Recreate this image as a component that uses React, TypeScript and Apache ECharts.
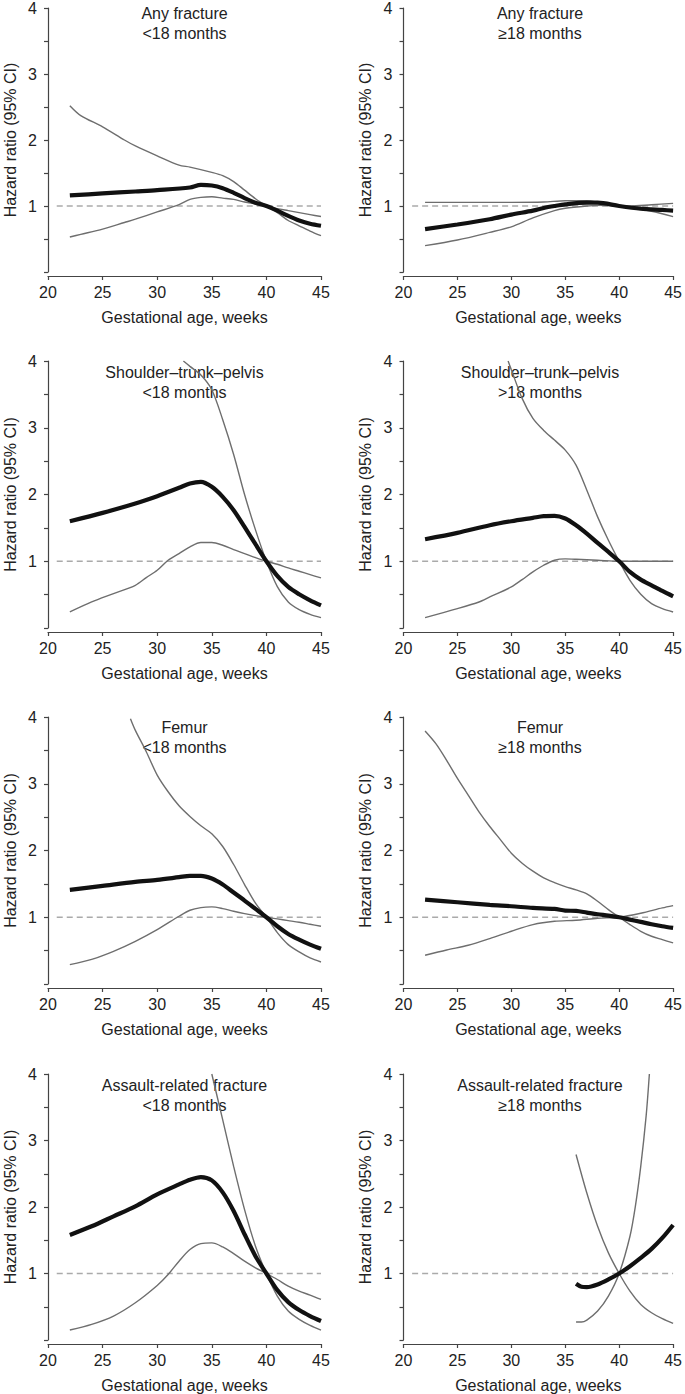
import React, { useEffect, useRef } from "react";
import * as echarts from "echarts";

// ---------- data ----------
const X_TICKS = [20, 25, 30, 35, 40, 45];
const Y_LABELS = [1, 2, 3, 4];
const REF_LINE_X = [20.8, 45];

const titles = [
  ["Any fracture", "<18 months"],
  ["Any fracture", "≥18 months"],
  ["Shoulder–trunk–pelvis", "<18 months"],
  ["Shoulder–trunk–pelvis", ">18 months"],
  ["Femur", "<18 months"],
  ["Femur", "≥18 months"],
  ["Assault-related fracture", "<18 months"],
  ["Assault-related fracture", "≥18 months"],
];

// Panel 1: Any fracture <18 months
const p1EstX = [22, 25, 28, 30, 33, 34, 35, 36, 37, 38, 39, 40, 41, 42, 43, 44, 45];
const p1EstY = [1.16, 1.19, 1.22, 1.24, 1.28, 1.32, 1.31, 1.27, 1.2, 1.12, 1.05, 1.0, 0.93, 0.85, 0.78, 0.73, 0.7];
const p1UpX = [22, 23, 25, 27, 28, 30, 32, 33, 35, 36, 37, 38, 39, 40, 41, 42, 43, 44, 45];
const p1UpY = [2.52, 2.37, 2.2, 2.0, 1.91, 1.76, 1.62, 1.59, 1.51, 1.46, 1.37, 1.24, 1.11, 1.0, 0.9, 0.78, 0.7, 0.62, 0.55];
const p1LoX = [22, 23, 25, 27, 28, 30, 32, 33, 34, 35, 36, 37, 38, 39, 40, 41, 42, 43, 44, 45];
const p1LoY = [0.53, 0.57, 0.65, 0.75, 0.8, 0.91, 1.02, 1.1, 1.13, 1.14, 1.12, 1.1, 1.06, 1.03, 1.0, 0.96, 0.93, 0.9, 0.87, 0.84];

// Panel 2: Any fracture >=18 months
const p2EstX = [22, 25, 28, 30, 32, 33, 34, 35, 37, 38, 40, 42, 44, 45];
const p2EstY = [0.65, 0.72, 0.8, 0.87, 0.93, 0.97, 1.0, 1.025, 1.05, 1.05, 1.0, 0.96, 0.94, 0.93];
const p2UpX = [22, 25, 30, 33, 35, 37, 38, 40, 41, 43, 45];
const p2UpY = [1.055, 1.055, 1.055, 1.06, 1.08, 1.08, 1.06, 1.0, 1.0, 1.02, 1.04];
const p2LoX = [22, 25, 28, 30, 32, 34, 35, 37, 38, 40, 41, 43, 45];
const p2LoY = [0.4, 0.485, 0.6, 0.685, 0.82, 0.93, 0.965, 1.0, 1.01, 1.0, 0.98, 0.92, 0.84];

// Panel 3: Shoulder-trunk-pelvis <18 months
const p3EstX = [22, 25, 28, 30, 32, 33, 34, 35, 36, 37, 38, 39, 40, 41, 42, 43, 44, 45];
const p3EstY = [1.6, 1.725, 1.865, 1.975, 2.1, 2.165, 2.19, 2.115, 1.965, 1.765, 1.515, 1.255, 1.0, 0.78, 0.615, 0.505, 0.415, 0.34];
const p3UpX = [32.4, 33, 34, 35, 36, 37, 38, 39, 40, 41, 42, 43, 44, 45];
const p3UpY = [4.0, 3.92, 3.79, 3.57, 3.12, 2.6, 2.0, 1.47, 1.0, 0.62, 0.39, 0.275, 0.205, 0.155];
const p3LoX = [22, 24, 26, 28, 29, 30, 31, 32, 33, 34, 35, 36, 37, 38, 39, 40, 41, 42, 43, 44, 45];
const p3LoY = [0.24, 0.39, 0.515, 0.64, 0.755, 0.865, 1.015, 1.115, 1.215, 1.28, 1.28, 1.24, 1.175, 1.115, 1.055, 1.0, 0.955, 0.9, 0.85, 0.8, 0.75];

// Panel 4: Shoulder-trunk-pelvis >18 months
const p4EstX = [22, 25, 28, 30, 32, 33, 34, 35, 36, 37, 38, 39, 40, 41, 42, 43, 44, 45];
const p4EstY = [1.33, 1.425, 1.54, 1.6, 1.65, 1.675, 1.68, 1.64, 1.54, 1.415, 1.275, 1.14, 1.0, 0.84, 0.725, 0.64, 0.555, 0.475];
const p4UpX = [29.7, 30, 31, 32, 33, 34, 35, 36, 37, 38, 39, 40, 41, 42, 43, 44, 45];
const p4UpY = [4.0, 3.87, 3.44, 3.14, 2.96, 2.815, 2.665, 2.44, 2.065, 1.665, 1.315, 1.0, 0.715, 0.505, 0.365, 0.29, 0.24];
const p4LoX = [22, 25, 27, 28, 30, 31, 32, 33, 34, 35, 36, 38, 40, 45];
const p4LoY = [0.155, 0.29, 0.39, 0.465, 0.615, 0.725, 0.84, 0.94, 1.015, 1.035, 1.03, 1.015, 1.0, 1.0];

// Panel 5: Femur <18 months
const p5EstX = [22, 25, 28, 30, 32, 33, 34, 35, 36, 37, 38, 39, 40, 41, 42, 43, 44, 45];
const p5EstY = [1.41, 1.47, 1.53, 1.56, 1.6, 1.62, 1.62, 1.58, 1.49, 1.37, 1.25, 1.125, 1.0, 0.865, 0.75, 0.665, 0.59, 0.527];
const p5UpX = [27.55, 28, 29, 30, 31, 32, 33, 34, 35, 36, 37, 38, 39, 40, 41, 42, 43, 44, 45];
const p5UpY = [3.975, 3.8, 3.48, 3.13, 2.88, 2.67, 2.51, 2.37, 2.25, 2.06, 1.79, 1.49, 1.21, 1.0, 0.77, 0.59, 0.48, 0.39, 0.33];
const p5LoX = [22, 24, 26, 28, 30, 32, 33, 34, 35, 36, 37, 38, 39, 40, 41, 42, 43, 44, 45];
const p5LoY = [0.29, 0.37, 0.49, 0.64, 0.815, 1.015, 1.105, 1.145, 1.155, 1.13, 1.09, 1.055, 1.025, 1.0, 0.975, 0.95, 0.925, 0.895, 0.865];

// Panel 6: Femur >=18 months
const p6EstX = [22, 25, 28, 30, 32, 34, 35, 36, 37, 38, 39, 40, 41, 42, 43, 44, 45];
const p6EstY = [1.265, 1.225, 1.185, 1.165, 1.14, 1.125, 1.1, 1.095, 1.07, 1.045, 1.025, 1.0, 0.965, 0.93, 0.895, 0.865, 0.84];
const p6UpX = [22, 23, 24, 25, 26, 27, 28, 29, 30, 31, 32, 33, 34, 35, 36, 37, 38, 39, 40, 41, 42, 43, 44, 45];
const p6UpY = [3.79, 3.6, 3.35, 3.08, 2.83, 2.58, 2.36, 2.16, 1.96, 1.81, 1.69, 1.59, 1.52, 1.46, 1.41, 1.35, 1.24, 1.115, 1.0, 0.89, 0.79, 0.715, 0.665, 0.615];
const p6LoX = [22, 24, 26, 28, 30, 32, 34, 36, 38, 40, 42, 44, 45];
const p6LoY = [0.43, 0.51, 0.58, 0.68, 0.79, 0.89, 0.94, 0.955, 0.985, 1.0, 1.06, 1.14, 1.175];

// Panel 7: Assault-related fracture <18 months
const p7EstX = [22, 24, 26, 28, 30, 32, 33, 34, 35, 36, 37, 38, 39, 40, 41, 42, 43, 44, 45];
const p7EstY = [1.58, 1.71, 1.86, 2.01, 2.19, 2.34, 2.41, 2.45, 2.4, 2.22, 1.94, 1.59, 1.26, 1.0, 0.75, 0.57, 0.45, 0.36, 0.285];
const p7UpX = [35, 36, 37, 38, 39, 40, 41, 42, 43, 44, 45];
const p7UpY = [4.0, 3.31, 2.61, 1.96, 1.41, 1.0, 0.66, 0.435, 0.31, 0.22, 0.15];
const p7LoX = [22, 24, 26, 28, 30, 31, 32, 33, 34, 35, 36, 37, 38, 39, 40, 41, 42, 43, 44, 45];
const p7LoY = [0.15, 0.235, 0.36, 0.56, 0.82, 0.985, 1.185, 1.36, 1.45, 1.46, 1.4, 1.3, 1.185, 1.085, 1.0, 0.91, 0.81, 0.735, 0.675, 0.61];

// Panel 8: Assault-related fracture >=18 months
const p8EstX = [36, 36.5, 37, 38, 39, 40, 41, 42, 43, 44, 45];
const p8EstY = [0.845, 0.8, 0.795, 0.835, 0.91, 1.0, 1.11, 1.235, 1.37, 1.535, 1.73];
const p8UpX = [36, 37, 38, 39, 40, 41, 42, 43, 44, 45];
const p8UpY = [2.79, 2.21, 1.71, 1.31, 1.0, 0.735, 0.535, 0.41, 0.32, 0.25];
const p8LoX = [36, 36.5, 37, 38, 39, 40, 41, 41.5, 42, 42.5, 42.8];
const p8LoY = [0.27, 0.27, 0.3, 0.435, 0.66, 1.0, 1.56, 2.01, 2.61, 3.37, 4.0];

const panelData = [
  { est: [p1EstX, p1EstY], up: [p1UpX, p1UpY], lo: [p1LoX, p1LoY] },
  { est: [p2EstX, p2EstY], up: [p2UpX, p2UpY], lo: [p2LoX, p2LoY] },
  { est: [p3EstX, p3EstY], up: [p3UpX, p3UpY], lo: [p3LoX, p3LoY] },
  { est: [p4EstX, p4EstY], up: [p4UpX, p4UpY], lo: [p4LoX, p4LoY] },
  { est: [p5EstX, p5EstY], up: [p5UpX, p5UpY], lo: [p5LoX, p5LoY] },
  { est: [p6EstX, p6EstY], up: [p6UpX, p6UpY], lo: [p6LoX, p6LoY] },
  { est: [p7EstX, p7EstY], up: [p7UpX, p7UpY], lo: [p7LoX, p7LoY] },
  { est: [p8EstX, p8EstY], up: [p8UpX, p8UpY], lo: [p8LoX, p8LoY] },
];

// ---------- layout ----------
const W = 685;
const H = 1394;
const FONT = "'Liberation Sans', Arial, Helvetica, sans-serif";
const COL_LEFT = [48, 403.5];
const COL_WIDTH = 273;
const ROW_TOP = [5, 361, 717, 1074];
const ROW_HEIGHT = 267;
const TITLE_Y1 = [13, 372, 727, 1085];
const LINE_GAP = 20;

const zip = (xs: number[], ys: number[]) => xs.map((x, i) => [x, ys[i]]);

export default function App() {
  const ref = useRef<HTMLDivElement>(null);

  useEffect(() => {
    document.body.style.margin = "0";
    if (!ref.current) return;
    const chart = echarts.init(ref.current, null, { renderer: "svg" });

    const grids: any[] = [];
    const xAxes: any[] = [];
    const yAxes: any[] = [];
    const series: any[] = [];
    const graphics: any[] = [];

    panelData.forEach((p, i) => {
      const col = i % 2;
      const row = Math.floor(i / 2);
      grids.push({
        left: COL_LEFT[col],
        top: ROW_TOP[row],
        width: COL_WIDTH,
        height: ROW_HEIGHT,
        containLabel: false,
      });
      xAxes.push({
        gridIndex: i,
        type: "value",
        min: 20,
        max: 45,
        interval: 5,
        offset: 4,
        name: "Gestational age, weeks",
        nameLocation: "middle",
        nameGap: 33,
        nameTextStyle: { fontFamily: FONT, fontSize: 16, color: "#222" },
        axisLine: { show: true, onZero: false, lineStyle: { color: "#444", width: 1.2 } },
        axisTick: { show: true, length: 4, lineStyle: { color: "#444", width: 1.2 } },
        axisLabel: { fontFamily: FONT, fontSize: 16, color: "#222", margin: 8 },
        splitLine: { show: false },
      });
      yAxes.push({
        gridIndex: i,
        type: "value",
        min: 0,
        max: 4,
        interval: 0.5,
        name: "Hazard ratio (95% CI)",
        nameLocation: "middle",
        nameGap: 30,
        nameTextStyle: { fontFamily: FONT, fontSize: 16, color: "#222" },
        axisLine: { show: true, lineStyle: { color: "#444", width: 1.2 } },
        axisTick: { show: true, length: 4, lineStyle: { color: "#444", width: 1.2 } },
        axisLabel: {
          fontFamily: FONT,
          fontSize: 16,
          color: "#222",
          margin: 11,
          formatter: (v: number) => (Y_LABELS.indexOf(v) >= 0 ? String(v) : ""),
        },
        splitLine: { show: false },
      });
      series.push({
        type: "line",
        xAxisIndex: i,
        yAxisIndex: i,
        data: REF_LINE_X.map((x) => [x, 1]),
        symbol: "none",
        lineStyle: { color: "#aaa", width: 1.3, type: [6, 4] },
        silent: true,
        z: 1,
      });
      [p.up, p.lo].forEach((s) => {
        series.push({
          type: "line",
          xAxisIndex: i,
          yAxisIndex: i,
          data: zip(s[0], s[1]),
          symbol: "none",
          smooth: 0.3,
          lineStyle: { color: "#6e6e6e", width: 1.4 },
          z: 2,
        });
      });
      series.push({
        type: "line",
        xAxisIndex: i,
        yAxisIndex: i,
        data: zip(p.est[0], p.est[1]),
        symbol: "none",
        smooth: 0.3,
        lineStyle: { color: "#111", width: 4.2 },
        z: 3,
      });
      const cx = COL_LEFT[col] + COL_WIDTH / 2;
      titles[i].forEach((t, k) => {
        graphics.push({
          type: "text",
          x: cx,
          y: TITLE_Y1[row] + k * LINE_GAP,
          z: 0,
          style: {
            text: t,
            fontFamily: FONT,
            fontSize: 16,
            fill: "#222",
            align: "center",
            verticalAlign: "middle",
            textAlign: "center",
            textVerticalAlign: "middle",
          },
        });
      });
    });

    chart.setOption({
      animation: false,
      backgroundColor: "#fff",
      grid: grids,
      xAxis: xAxes,
      yAxis: yAxes,
      series,
      graphic: graphics,
    });

    return () => chart.dispose();
  }, []);

  return (
    <div
      ref={ref}
      style={{ position: "absolute", left: 0, top: 0, width: W, height: H, background: "#fff" }}
    />
  );
}
